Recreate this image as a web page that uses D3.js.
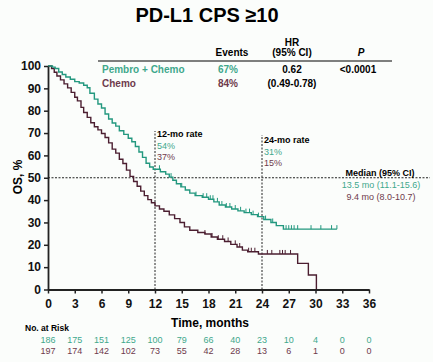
<!DOCTYPE html>
<html>
<head>
<meta charset="utf-8">
<script src="https://cdn.jsdelivr.net/npm/d3@7"></script>
<style>
  body { margin: 0; background: #fbfdfb; }
  svg { font-family: "Liberation Sans", Arial, sans-serif; }
</style>
</head>
<body>
<div id="chart"></div>
<script>
// KM step points: [time in months, OS %]
const pembro = [
  [0, 100], [0.5, 99.5], [0.8, 98.9], [1.2, 97.3], [1.6, 96.2], [2.0, 95.1], [2.5, 94.1],
  [3.0, 93.0], [3.5, 92.4], [4.0, 91.4], [4.4, 90.3], [4.7, 87.8], [5.2, 85.2], [5.6, 83.0],
  [6.0, 81.2], [6.4, 78.5], [6.8, 76.3], [7.2, 74.5], [7.6, 73.1], [8.0, 71.0], [8.5, 69.4],
  [9.0, 67.7], [9.4, 66.1], [9.8, 64.0], [10.2, 61.5], [10.6, 59.1], [11.0, 56.5], [11.4, 54.8],
  [11.8, 53.8], [12.6, 52.7], [13.2, 51.6], [13.6, 50.3], [14.0, 48.9], [14.4, 47.3], [14.9, 45.9],
  [15.4, 44.5], [15.9, 43.1], [16.5, 42.0], [17.3, 41.3], [18.0, 40.4], [18.6, 39.2], [19.2, 37.8],
  [19.9, 36.9], [20.6, 36.0], [21.3, 35.2], [22.0, 34.4], [22.8, 33.5], [23.5, 32.6], [24.2, 31.3],
  [25.0, 30.0], [25.6, 28.6], [26.4, 27.0], [32.4, 27.0]
];
const chemo = [
  [0, 100], [0.4, 98.9], [0.7, 97.2], [1.0, 95.5], [1.4, 93.8], [1.8, 92.0], [2.2, 90.2],
  [2.6, 88.2], [3.0, 86.0], [3.3, 84.4], [3.7, 81.5], [4.0, 79.2], [4.4, 77.0], [4.8, 74.6],
  [5.2, 72.8], [5.6, 71.4], [6.0, 69.8], [6.4, 68.0], [6.8, 65.6], [7.2, 62.8], [7.6, 61.0],
  [8.0, 58.3], [8.4, 56.4], [8.8, 53.4], [9.2, 50.6], [9.6, 48.3], [10.0, 46.2], [10.4, 44.0],
  [10.8, 42.0], [11.2, 40.2], [11.6, 38.8], [12.0, 37.4], [12.5, 36.0], [13.0, 35.0], [13.6, 33.4],
  [14.2, 31.7], [14.8, 30.0], [15.3, 28.0], [15.9, 26.5], [16.8, 25.5], [17.6, 24.8], [18.3, 23.5],
  [19.0, 22.5], [19.8, 21.5], [20.5, 20.2], [21.2, 19.0], [21.8, 17.6], [22.4, 16.9], [23.6, 15.9],
  [28.0, 11.7], [29.2, 6.5], [30.1, 0]
];
const pembroCensor = [12.5, 13.8, 15.0, 16.6, 17.4, 17.8, 18.2, 18.5, 19.0, 19.5, 20.0, 20.4,
  21.0, 21.6, 22.2, 22.6, 23.0, 23.6, 24.4, 25.2, 26.7, 27.0, 27.3, 27.6, 28.0, 29.5, 30.6, 31.8, 32.4];
const chemoCensor = [17.6, 18.4, 19.1, 19.6, 20.2, 21.0, 21.5, 22.5, 22.8, 23.2, 24.6, 25.1,
  26.0, 26.3, 26.6, 27.2];

const xTicks = d3.range(0, 37, 3);
const yTicks = d3.range(0, 101, 10);
const riskPembro = [186, 175, 151, 125, 100, 79, 66, 40, 23, 10, 4, 0, 0];
const riskChemo = [197, 174, 142, 102, 73, 55, 42, 28, 13, 6, 1, 0, 0];

const tealLine = '#23987f';
const maroonLine = '#4b1e30';
const tealText = '#3fa88c';
const maroonText = '#6e3a4c';

const width = 433, height = 362;
const svg = d3.select('#chart').append('svg')
  .attr('width', width).attr('height', height);

const x = d3.scaleLinear().domain([0, 36]).range([48, 369]);
const y = d3.scaleLinear().domain([0, 100]).range([289.5, 66]);

// title
svg.append('text').attr('x', 207).attr('y', 22).attr('text-anchor', 'middle')
  .attr('font-size', 20).attr('font-weight', 'bold').text('PD-L1 CPS ≥10');

// table
const tbl = svg.append('g').attr('font-size', 10).attr('font-weight', 'bold').attr('text-anchor', 'middle');
tbl.append('text').attr('x', 232).attr('y', 56).text('Events');
tbl.append('text').attr('x', 292).attr('y', 46).text('HR');
tbl.append('text').attr('x', 292).attr('y', 56).text('(95% CI)');
tbl.append('text').attr('x', 361).attr('y', 56).attr('font-style', 'italic').text('P');
svg.append('line').attr('x1', 98).attr('x2', 392).attr('y1', 61).attr('y2', 61)
  .attr('stroke', '#555').attr('stroke-width', 1.5);
tbl.append('text').attr('x', 102).attr('y', 73).attr('text-anchor', 'start').attr('fill', tealText).text('Pembro + Chemo');
tbl.append('text').attr('x', 228).attr('y', 73).attr('fill', tealText).text('67%');
tbl.append('text').attr('x', 292).attr('y', 73).text('0.62');
tbl.append('text').attr('x', 358).attr('y', 73).text('<0.0001');
tbl.append('text').attr('x', 102).attr('y', 87).attr('text-anchor', 'start').attr('fill', maroonText).text('Chemo');
tbl.append('text').attr('x', 228).attr('y', 87).attr('fill', maroonText).text('84%');
tbl.append('text').attr('x', 292).attr('y', 87).text('(0.49-0.78)');

// reference lines
const dash = '2,1.5';
svg.append('line').attr('x1', x(0)).attr('x2', 430).attr('y1', y(50)).attr('y2', y(50))
  .attr('stroke', '#222').attr('stroke-dasharray', dash);
svg.append('line').attr('x1', x(12)).attr('x2', x(12)).attr('y1', y(0)).attr('y2', 131)
  .attr('stroke', '#222').attr('stroke-dasharray', dash);
svg.append('line').attr('x1', x(24)).attr('x2', x(24)).attr('y1', y(0)).attr('y2', 135)
  .attr('stroke', '#222').attr('stroke-dasharray', dash);

// curves
const line = d3.line().x(d => x(d[0])).y(d => y(d[1])).curve(d3.curveStepAfter);
svg.append('path').datum(chemo).attr('d', line).attr('fill', 'none')
  .attr('stroke', maroonLine).attr('stroke-width', 1.4);
svg.append('path').datum(pembro).attr('d', line).attr('fill', 'none')
  .attr('stroke', tealLine).attr('stroke-width', 1.4);

function survAt(curve, t) {
  let v = curve[0][1];
  for (const p of curve) { if (p[0] <= t) v = p[1]; }
  return v;
}
svg.append('g').selectAll('line').data(chemoCensor).join('line')
  .attr('x1', d => x(d)).attr('x2', d => x(d))
  .attr('y1', d => y(survAt(chemo, d))).attr('y2', d => y(survAt(chemo, d)) - 4)
  .attr('stroke', maroonLine).attr('stroke-width', 1);
svg.append('g').selectAll('line').data(pembroCensor).join('line')
  .attr('x1', d => x(d)).attr('x2', d => x(d))
  .attr('y1', d => y(survAt(pembro, d))).attr('y2', d => y(survAt(pembro, d)) - 4)
  .attr('stroke', tealLine).attr('stroke-width', 1);

// axes
const xAxis = svg.append('g').attr('transform', `translate(0,${y(0)})`)
  .call(d3.axisBottom(x).tickValues(xTicks).tickSize(4).tickSizeOuter(0));
const yAxis = svg.append('g').attr('transform', `translate(${x(0)},0)`)
  .call(d3.axisLeft(y).tickValues(yTicks).tickSize(4).tickSizeOuter(0));
[xAxis, yAxis].forEach(a => {
  a.select('.domain').attr('stroke', '#222').attr('stroke-width', 1.8);
  a.selectAll('.tick line').attr('stroke', '#222').attr('stroke-width', 1.5);
  a.selectAll('.tick text').attr('font-size', 12).attr('font-weight', 'bold')
    .attr('font-family', '"Liberation Sans", Arial, sans-serif').attr('fill', '#111');
});
xAxis.selectAll('.tick text').attr('dy', '0.95em');

svg.append('text').attr('transform', 'translate(22,177) rotate(-90)').attr('text-anchor', 'middle')
  .attr('font-size', 12).attr('font-weight', 'bold').text('OS, %');
svg.append('text').attr('x', 210).attr('y', 327).attr('text-anchor', 'middle')
  .attr('font-size', 12).attr('font-weight', 'bold').text('Time, months');

// annotations
const ann = svg.append('g').attr('font-size', 9);
ann.append('text').attr('x', 157).attr('y', 137).attr('font-weight', 'bold').text('12-mo rate');
ann.append('text').attr('x', 157).attr('y', 149).attr('fill', tealText).text('54%');
ann.append('text').attr('x', 157).attr('y', 160).attr('fill', maroonText).text('37%');
ann.append('text').attr('x', 264).attr('y', 143).attr('font-weight', 'bold').text('24-mo rate');
ann.append('text').attr('x', 264).attr('y', 155).attr('fill', tealText).text('31%');
ann.append('text').attr('x', 264).attr('y', 166).attr('fill', maroonText).text('15%');
ann.append('text').attr('x', 380).attr('y', 176).attr('text-anchor', 'middle').attr('font-weight', 'bold').text('Median (95% CI)');
ann.append('text').attr('x', 381).attr('y', 188).attr('text-anchor', 'middle').attr('fill', tealText).text('13.5 mo (11.1-15.6)');
ann.append('text').attr('x', 381).attr('y', 200).attr('text-anchor', 'middle').attr('fill', maroonText).text('9.4 mo (8.0-10.7)');

// number at risk
svg.append('text').attr('x', 25).attr('y', 331).attr('font-size', 8.5).attr('font-weight', 'bold').text('No. at Risk');
const risk = svg.append('g').attr('font-size', 9).attr('text-anchor', 'middle');
risk.selectAll('.rp').data(riskPembro).join('text').attr('class', 'rp')
  .attr('x', (d, i) => x(xTicks[i])).attr('y', 343).attr('fill', tealText).text(d => d);
risk.selectAll('.rc').data(riskChemo).join('text').attr('class', 'rc')
  .attr('x', (d, i) => x(xTicks[i])).attr('y', 354).attr('fill', maroonText).text(d => d);
</script>
</body>
</html>
